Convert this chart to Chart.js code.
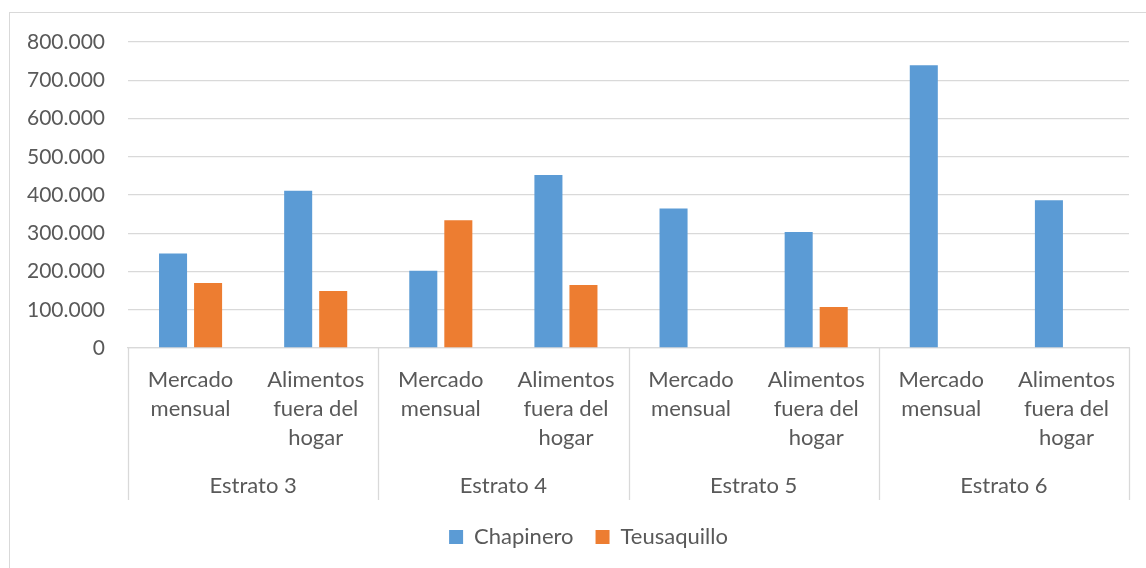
<!DOCTYPE html>
<html>
<head>
<meta charset="utf-8">
<script src="https://cdn.jsdelivr.net/npm/chart.js@4.4.1/dist/chart.umd.min.js"></script>
<style>
  html, body { margin: 0; padding: 0; background: #fff; }
  #wrap { position: relative; width: 1146px; height: 568px; }
  #marco { position: absolute; left: 9px; top: 12px; width: 1150px; height: 570px; border: 1px solid #d9d9d9; box-sizing: border-box; }
  canvas { position: absolute; left: 0; top: 0; }
</style>
</head>
<body>
<div id="wrap">
  <div id="marco"></div>
  <canvas id="grafico" width="1146" height="568"></canvas>
</div>
<script>
const estratos = ['Estrato 3', 'Estrato 4', 'Estrato 5', 'Estrato 6'];
const rubros = [['Mercado', 'mensual'], ['Alimentos', 'fuera del', 'hogar']];
// valores por estrato: mercado, alimentos fuera del hogar
const chapinero = [247000, 411000, 202000, 452000, 365000, 303000, 739000, 386000];
const teusaquillo = [170000, 149000, 334000, 165000, 0, 107000, 0, 0];
const yTicks = [0, 100000, 200000, 300000, 400000, 500000, 600000, 700000, 800000];

const etiquetas = [];
estratos.forEach(function() {
  rubros.forEach(function(r) { etiquetas.push(r); });
});

const gris = '#d9d9d9';
const texto = '#595959';

function miles(v) {
  return String(v).replace(/\B(?=(\d{3})+(?!\d))/g, '.');
}

// lineas verticales entre estratos (como el eje de varios niveles de Excel)
const separadores = {
  id: 'separadores',
  afterLayout: function(chart) {
    // la leyenda va centrada un poco mas a la derecha, como en Excel
    chart.legend.left += 24;
    chart.legend.right += 24;
  },
  afterDraw: function(chart) {
    const xs = chart.scales.x;
    const x2 = chart.scales.x2;
    const paso = xs.getPixelForValue(1) - xs.getPixelForValue(0);
    const ctx = chart.ctx;
    ctx.save();
    ctx.strokeStyle = gris;
    ctx.lineWidth = 1.3;
    for (let k = 0; k <= estratos.length; k++) {
      const px = Math.round(xs.getPixelForValue(0) - paso / 2 + k * 2 * paso) + 0.5;
      ctx.beginPath();
      ctx.moveTo(px, xs.top);
      ctx.lineTo(px, x2.bottom - 4);
      ctx.stroke();
    }
    ctx.restore();
  }
};

const config = {
  type: 'bar',
  data: {
    labels: etiquetas,
    datasets: [{
      label: 'Chapinero',
      backgroundColor: '#5b9bd5',
      data: chapinero
    }, {
      label: 'Teusaquillo',
      backgroundColor: '#ed7d31',
      data: teusaquillo
    }]
  },
  options: {
    responsive: false,
    animation: false,
    categoryPercentage: 0.56,
    barPercentage: 0.8,
    layout: { padding: { left: 0, right: 17, top: 42, bottom: 10 } },
    plugins: {
      legend: {
        position: 'bottom',
        labels: { boxWidth: 14, boxHeight: 14, color: texto, font: { family: 'Lato', size: 22 }, padding: 22 }
      },
      tooltip: { enabled: false }
    },
    scales: {
      y: {
        min: 0,
        max: 800000,
        afterBuildTicks: function(s) { s.ticks = yTicks.map(function(v) { return { value: v }; }); },
        afterFit: function(s) { s.width = 128; },
        grid: { color: gris, lineWidth: 1.3, drawTicks: false },
        border: { display: false },
        ticks: { color: texto, font: { family: 'Lato', size: 21 }, padding: 23, callback: function(v) { return miles(v); } }
      },
      x: {
        grid: { display: false },
        border: { color: gris, width: 1.3 },
        afterFit: function(s) { s.height = 113; },
        ticks: { color: texto, font: { family: 'Lato', size: 22, lineHeight: 1.32 }, padding: 9, maxRotation: 0, autoSkip: false }
      },
      x2: {
        type: 'category',
        position: 'bottom',
        labels: estratos,
        offset: true,
        grid: { display: false },
        border: { display: false },
        afterFit: function(s) { s.height = 43; },
        ticks: { color: texto, font: { family: 'Lato', size: 22, lineHeight: 1.32 }, padding: 2 }
      }
    }
  },
  plugins: [separadores]
};

const grafico = new Chart(document.getElementById('grafico'), config);
</script>
</body>
</html>
